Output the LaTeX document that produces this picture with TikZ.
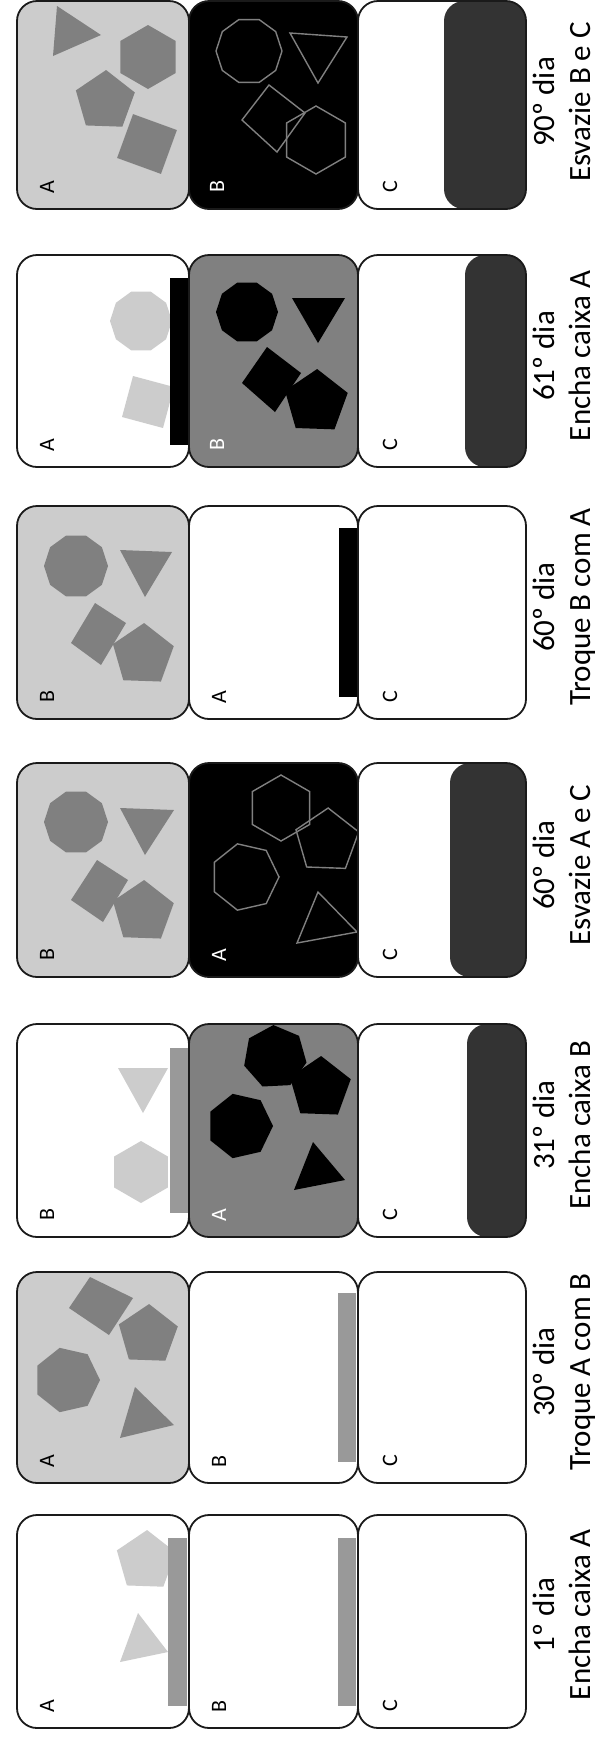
\documentclass[tikz,border=0pt]{standalone}
\usepackage{fontspec}
\setmainfont{Carlito}
\definecolor{lg}{HTML}{CCCCCC}
\definecolor{mg}{HTML}{808080}
\definecolor{dk}{HTML}{333333}
\definecolor{barc}{HTML}{999999}
\definecolor{ln}{HTML}{1A1A1A}
\newcommand\rpoly[6]{\path[#6] plot[samples=#1,domain=0:360,variable=\t] ({#2+#4*cos(\t+#5)},{#3+#4*sin(\t+#5)}) -- cycle;}
\newcommand\bfill[5]{\fill[#5,rounded corners=20pt] (#1,#2) rectangle (#3,#4);}
\newcommand\bline[4]{\draw[boxline] (#1,#2) rectangle (#3,#4);}
\begin{document}
\begin{tikzpicture}[x=1pt,y=-1pt,
  boxline/.style={rounded corners=20pt,line width=1.8pt,draw=ln},
  outl/.style={draw=mg,line width=1.4pt},
  lbl/.style={rotate=90,anchor=base,font=\fontsize{31}{36}\selectfont,inner sep=0pt},
  let/.style={rotate=90,font=\fontsize{22}{26}\selectfont,inner sep=0pt},
  wlet/.style={let,text=white}]
\useasboundingbox (0,0) rectangle (598,1741);
\fill[white] (0,0) rectangle (598,1741);

% ---------- Row 1 : 90 dia ----------
\bfill{17}{1}{189}{209}{lg}
\path[fill=mg] (57,6) -- (101,35) -- (53,56) -- cycle;
\rpoly{7}{148}{57}{32}{90}{fill=mg}
\rpoly{6}{105}{101}{31}{200}{fill=mg}
\rpoly{5}{147}{144}{33}{65}{fill=mg}
\bfill{189}{1}{358}{209}{black}
\rpoly{11}{249}{51}{33}{0}{outl}
\path[outl] (290,33) -- (347,37) -- (318,83) -- cycle;
\path[outl] (269,85) -- (305,113) -- (277,152) -- (242,120) -- cycle;
\rpoly{7}{316}{140}{34}{90}{outl}
\bfill{358}{1}{526}{209}{white}
\bfill{444}{1}{526}{209}{dk}
\bline{17}{1}{189}{209}
\bline{189}{1}{358}{209}
\bline{358}{1}{526}{209}
\node[let] (r1a) at (47,187) {A};
\node[wlet] (r1b) at (217,187) {B};
\node[let] (r1c) at (390,187) {C};
\node[lbl] (r1d) at (554,102) {90º dia};
\node[lbl] (r1t) at (590,102) {Esvazie B e C};

% ---------- Row 2 : 61 dia ----------
\bfill{17}{255}{189}{467}{white}
\rpoly{11}{141}{321}{31}{0}{fill=lg}
\rpoly{5}{148}{402}{30}{60}{fill=lg}
\fill[black] (170,278) rectangle (189,445);
\bfill{189}{255}{358}{467}{mg}
\rpoly{11}{247}{312}{31}{0}{fill=black}
\path[fill=black] (292,298) -- (345,298) -- (318,343) -- cycle;
\path[fill=black] (267,347) -- (301,373) -- (275,412) -- (242,383) -- cycle;
\rpoly{6}{316}{402}{33}{200}{fill=black}
\bfill{358}{255}{526}{467}{white}
\bfill{465}{255}{526}{467}{dk}
\bline{17}{255}{189}{467}
\bline{189}{255}{358}{467}
\bline{358}{255}{526}{467}
\node[let] (r2a) at (47,445) {A};
\node[wlet] (r2b) at (217,445) {B};
\node[let] (r2c) at (390,445) {C};
\node[lbl] (r2d) at (554,356) {61º dia};
\node[lbl] (r2t) at (590,356) {Encha caixa A};

% ---------- Row 3 : 60 dia troque ----------
\bfill{17}{506}{189}{719}{lg}
\rpoly{11}{76}{566}{32}{0}{fill=mg}
\path[fill=mg] (120,550) -- (172,552) -- (145,597) -- cycle;
\path[fill=mg] (95,603) -- (126,623) -- (101,665) -- (71,643) -- cycle;
\rpoly{6}{143}{655}{32}{200}{fill=mg}
\bfill{189}{506}{358}{719}{white}
\fill[black] (339,528) rectangle (357,697);
\bfill{358}{506}{526}{719}{white}
\bline{17}{506}{189}{719}
\bline{189}{506}{358}{719}
\bline{358}{506}{526}{719}
\node[let] (r3a) at (47,697) {B};
\node[let] (r3b) at (219,697) {A};
\node[let] (r3c) at (390,697) {C};
\node[lbl] (r3d) at (554,607) {60º dia};
\node[lbl] (r3t) at (590,607) {Troque B com A};

% ---------- Row 4 : 60 dia esvazie ----------
\bfill{17}{763}{189}{977}{lg}
\rpoly{11}{76}{822}{32}{0}{fill=mg}
\path[fill=mg] (120,808) -- (174,810) -- (145,855) -- cycle;
\path[fill=mg] (97,860) -- (128,880) -- (103,922) -- (71,900) -- cycle;
\rpoly{6}{143}{912}{32}{200}{fill=mg}
\bfill{189}{763}{358}{977}{black}
\rpoly{7}{281}{808}{33}{90}{outl}
\rpoly{6}{327}{841}{33}{200}{outl}
\rpoly{8}{245}{877}{34}{0}{outl}
\path[outl] (318,892) -- (357,932) -- (297,943) -- cycle;
\bfill{358}{763}{526}{977}{white}
\bfill{450}{763}{526}{977}{dk}
\bline{17}{763}{189}{977}
\bline{189}{763}{358}{977}
\bline{358}{763}{526}{977}
\node[let] (r4a) at (47,955) {B};
\node[wlet] (r4b) at (219,955) {A};
\node[let] (r4c) at (390,955) {C};
\node[lbl] (r4d) at (554,865) {60º dia};
\node[lbl] (r4t) at (590,865) {Esvazie A e C};

% ---------- Row 5 : 31 dia ----------
\bfill{17}{1024}{189}{1237}{white}
\path[fill=lg] (118,1068) -- (168,1068) -- (143,1113) -- cycle;
\rpoly{7}{141}{1172}{31}{90}{fill=lg}
\fill[barc] (170,1048) rectangle (189,1213);
\bfill{189}{1024}{358}{1237}{mg}
\rpoly{8}{275}{1057}{32}{10}{fill=black}
\rpoly{6}{320}{1088}{32}{200}{fill=black}
\rpoly{8}{240}{1126}{33}{0}{fill=black}
\path[fill=black] (313,1142) -- (345,1180) -- (294,1190) -- cycle;
\bfill{358}{1024}{526}{1237}{white}
\bfill{467}{1024}{526}{1237}{dk}
\bline{17}{1024}{189}{1237}
\bline{189}{1024}{358}{1237}
\bline{358}{1024}{526}{1237}
\node[let] (r5a) at (47,1215) {B};
\node[wlet] (r5b) at (219,1215) {A};
\node[let] (r5c) at (390,1215) {C};
\node[lbl] (r5d) at (554,1125) {31º dia};
\node[lbl] (r5t) at (590,1125) {Encha caixa B};

% ---------- Row 6 : 30 dia ----------
\bfill{17}{1272}{189}{1483}{lg}
\path[fill=mg] (90,1277) -- (133,1298) -- (109,1335) -- (69,1308) -- cycle;
\rpoly{6}{148}{1335}{31}{200}{fill=mg}
\rpoly{8}{67}{1380}{33}{0}{fill=mg}
\path[fill=mg] (135,1387) -- (174,1425) -- (120,1438) -- cycle;
\bfill{189}{1272}{358}{1483}{white}
\fill[barc] (338,1293) rectangle (356,1462);
\bfill{358}{1272}{526}{1483}{white}
\bline{17}{1272}{189}{1483}
\bline{189}{1272}{358}{1483}
\bline{358}{1272}{526}{1483}
\node[let] (r6a) at (47,1461) {A};
\node[let] (r6b) at (219,1461) {B};
\node[let] (r6c) at (390,1461) {C};
\node[lbl] (r6d) at (554,1372) {30º dia};
\node[lbl] (r6t) at (590,1372) {Troque A com B};

% ---------- Row 7 : 1 dia ----------
\bfill{17}{1515}{189}{1728}{white}
\rpoly{6}{146}{1561}{31}{200}{fill=lg}
\path[fill=lg] (138,1613) -- (168,1652) -- (120,1662) -- cycle;
\fill[barc] (168,1538) rectangle (187,1706);
\bfill{189}{1515}{358}{1728}{white}
\fill[barc] (338,1538) rectangle (356,1706);
\bfill{358}{1515}{526}{1728}{white}
\bline{17}{1515}{189}{1728}
\bline{189}{1515}{358}{1728}
\bline{358}{1515}{526}{1728}
\node[let] (r7a) at (47,1706) {A};
\node[let] (r7b) at (219,1706) {B};
\node[let] (r7c) at (390,1706) {C};
\node[lbl] (r7d) at (554,1615) {1º dia};
\node[lbl] (r7t) at (590,1615) {Encha caixa A};
\end{tikzpicture}
\end{document}
